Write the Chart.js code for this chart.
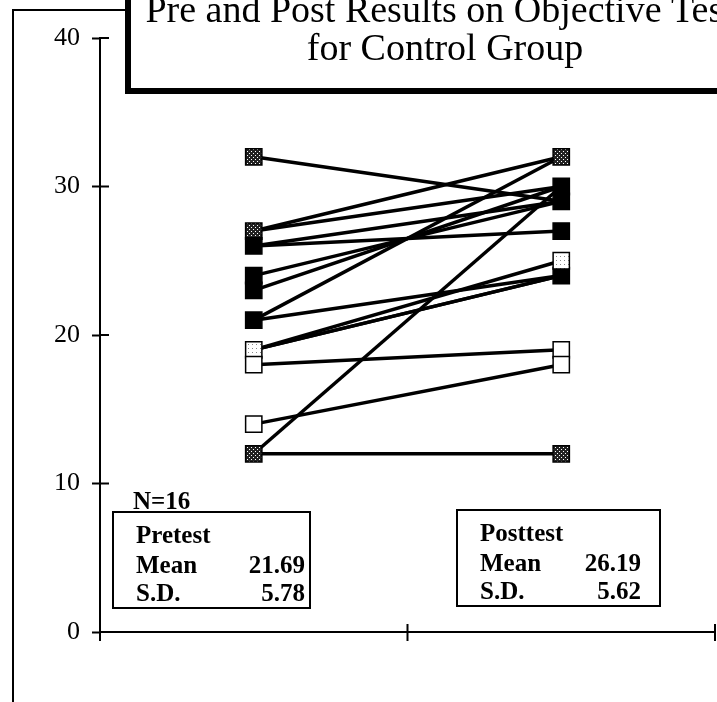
<!DOCTYPE html>
<html>
<head>
<meta charset="utf-8">
<title>Pre and Post Results on Objective Tests for Control Group</title>
<script src="https://cdn.jsdelivr.net/npm/chart.js@4.4.1/dist/chart.umd.min.js"></script>
<style>
    html, body { margin: 0; padding: 0; background: #fff; }
    #chart { display: block; }
</style>
</head>
<body>
<canvas id="chart" width="717" height="702"></canvas>
<script>
/* =========================
   DATA
   ========================= */
const groups = ['Pretest', 'Posttest'];
const groupMeans = ['21.69', '26.19'];
const groupSDs = ['5.78', '5.62'];
const sampleSize = 16;

// one pair per student: pretest -> posttest
const preScores  = [32, 27, 27, 26, 26, 24, 23, 21, 21, 19, 19, 19, 18, 14, 12, 12];
const postScores = [29, 32, 30, 27, 29, 29, 30, 32, 24, 25, 24, 24, 19, 18, 12, 30];

const yTicks = [0, 10, 20, 30, 40];
const xTicks = [0, 1, 2];

const titleLines = ['Pre and Post Results on Objective Tests', 'for Control Group'];

/* =========================
   STYLE
   ========================= */
const CONFIG = {
    serif: '"Liberation Serif", "DejaVu Serif", serif',
    xPre: 0.5,
    xPost: 1.5,
    // marker look per score (the original mixes fills)
    preKinds:  { 32: 'hatch', 27: 'hatch', 26: 'solid', 24: 'solid', 23: 'solid', 21: 'solid', 19: 'light', 18: 'open', 14: 'open', 12: 'hatch' },
    postKinds: { 32: 'hatch', 30: 'solid', 29: 'solid', 27: 'solid', 25: 'light', 24: 'solid', 19: 'open', 18: 'open', 12: 'hatch' }
};

function makeFill(kind) {
    if (kind === 'solid') return '#000';
    if (kind === 'open') return '#fff';
    const c = document.createElement('canvas');
    c.width = 4; c.height = 4;
    const g = c.getContext('2d');
    if (kind === 'hatch') {
        g.fillStyle = '#222'; g.fillRect(0, 0, 4, 4);
        g.fillStyle = '#fff'; g.fillRect(1, 1, 1, 1); g.fillRect(3, 3, 1, 1);
    } else { // light
        g.fillStyle = '#fff'; g.fillRect(0, 0, 4, 4);
        g.fillStyle = '#888'; g.fillRect(0, 0, 1, 1);
    }
    return g.createPattern(c, 'repeat');
}

function uniq(arr) {
    return [...new Set(arr)];
}

/* =========================
   DATASETS
   ========================= */
const lineSets = preScores.map((pre, i) => ({
    type: 'line',
    data: [{ x: CONFIG.xPre, y: pre }, { x: CONFIG.xPost, y: postScores[i] }],
    borderColor: '#000',
    borderWidth: 3.5,
    pointRadius: 0,
    order: 2
}));

function markerSet(values, xPos, kinds) {
    const vals = uniq(values);
    return {
        type: 'scatter',
        data: vals.map(v => ({ x: xPos, y: v })),
        pointStyle: 'rect',
        pointRadius: 11.5,
        pointBackgroundColor: vals.map(v => makeFill(kinds[v] || 'solid')),
        pointBorderColor: '#000',
        pointBorderWidth: 1.5,
        order: 0
    };
}

const datasets = lineSets.concat([
    markerSet(preScores, CONFIG.xPre, CONFIG.preKinds),
    markerSet(postScores, CONFIG.xPost, CONFIG.postKinds)
]);

/* =========================
   DECORATION PLUGIN
   ========================= */
const decor = {
    id: 'decor',
    afterDraw(chart) {
        const ctx = chart.ctx;
        const xs = chart.scales.x;
        const ys = chart.scales.y;
        const x0 = xs.getPixelForValue(0);
        const y0 = ys.getPixelForValue(0);

        ctx.save();
        ctx.strokeStyle = '#000';
        ctx.lineWidth = 2;

        // inner half of the crossing ticks
        yTicks.forEach(v => {
            const py = ys.getPixelForValue(v);
            ctx.beginPath();
            ctx.moveTo(x0, py);
            ctx.lineTo(x0 + 9, py);
            ctx.stroke();
        });
        xTicks.forEach(v => {
            const px = xs.getPixelForValue(v);
            ctx.beginPath();
            ctx.moveTo(px, y0 - 8);
            ctx.lineTo(px, y0 + 9);
            ctx.stroke();
        });

        // outer frame (left + top)
        ctx.beginPath();
        ctx.moveTo(13, 702);
        ctx.lineTo(13, 10);
        ctx.lineTo(128, 10);
        ctx.stroke();

        // title box
        ctx.fillStyle = '#fff';
        ctx.fillRect(128, 0, 600, 88);
        ctx.fillStyle = '#000';
        ctx.fillRect(125, 0, 6, 94);
        ctx.fillRect(125, 88, 600, 6);

        ctx.font = '38px ' + CONFIG.serif;
        ctx.textAlign = 'center';
        ctx.textBaseline = 'alphabetic';
        ctx.fillText(titleLines[0], 447, 22);
        ctx.fillText(titleLines[1], 445, 60);

        // stats boxes
        const boxes = [
            { left: 113, top: 512, right: 310, bottom: 608, numRight: 305 },
            { left: 457, top: 510, right: 660, bottom: 606, numRight: 641 }
        ];
        ctx.font = 'bold 25px ' + CONFIG.serif;
        groups.forEach((name, i) => {
            const b = boxes[i];
            ctx.lineWidth = 2;
            ctx.strokeRect(b.left, b.top, b.right - b.left, b.bottom - b.top);
            const tx = b.left + 23;
            ctx.textAlign = 'left';
            ctx.fillText(name, tx, b.top + 31);
            ctx.fillText('Mean', tx, b.top + 61);
            ctx.fillText('S.D.', tx, b.top + 89);
            ctx.textAlign = 'right';
            ctx.fillText(groupMeans[i], b.numRight, b.top + 61);
            ctx.fillText(groupSDs[i], b.numRight, b.top + 89);
        });

        // N=16, underlined
        const nText = 'N=' + sampleSize;
        ctx.textAlign = 'left';
        ctx.fillText(nText, 133, 509);
        const w = ctx.measureText(nText).width;
        ctx.fillRect(133, 511, w, 2);

        ctx.restore();
    }
};

/* =========================
   INIT
   ========================= */
function initChart() {
    const canvas = document.getElementById('chart');

    return new Chart(canvas, {
        type: 'line',
        data: { datasets },
        plugins: [decor],
        options: {
            responsive: false,
            animation: false,
            layout: { autoPadding: false, padding: { top: 38, bottom: 70, left: 0, right: 2 } },
            plugins: {
                legend: { display: false },
                tooltip: { enabled: false },
                title: { display: false }
            },
            scales: {
                x: {
                    type: 'linear',
                    min: 0,
                    max: 2,
                    ticks: { display: false, stepSize: 1 },
                    grid: { display: false },
                    border: { display: true, color: '#000', width: 2 },
                    afterFit(scale) { scale.height = 0; }
                },
                y: {
                    type: 'linear',
                    min: 0,
                    max: 40,
                    ticks: {
                        stepSize: 10,
                        padding: 12,
                        color: '#000',
                        font: { family: CONFIG.serif, size: 26 }
                    },
                    grid: {
                        drawOnChartArea: false,
                        drawTicks: true,
                        tickLength: 8,
                        tickWidth: 2,
                        tickColor: '#000'
                    },
                    border: { display: true, color: '#000', width: 2 },
                    afterFit(scale) { scale.width = 100; }
                }
            }
        }
    });
}

document.addEventListener('DOMContentLoaded', () => {
    initChart();
});
</script>
</body>
</html>
